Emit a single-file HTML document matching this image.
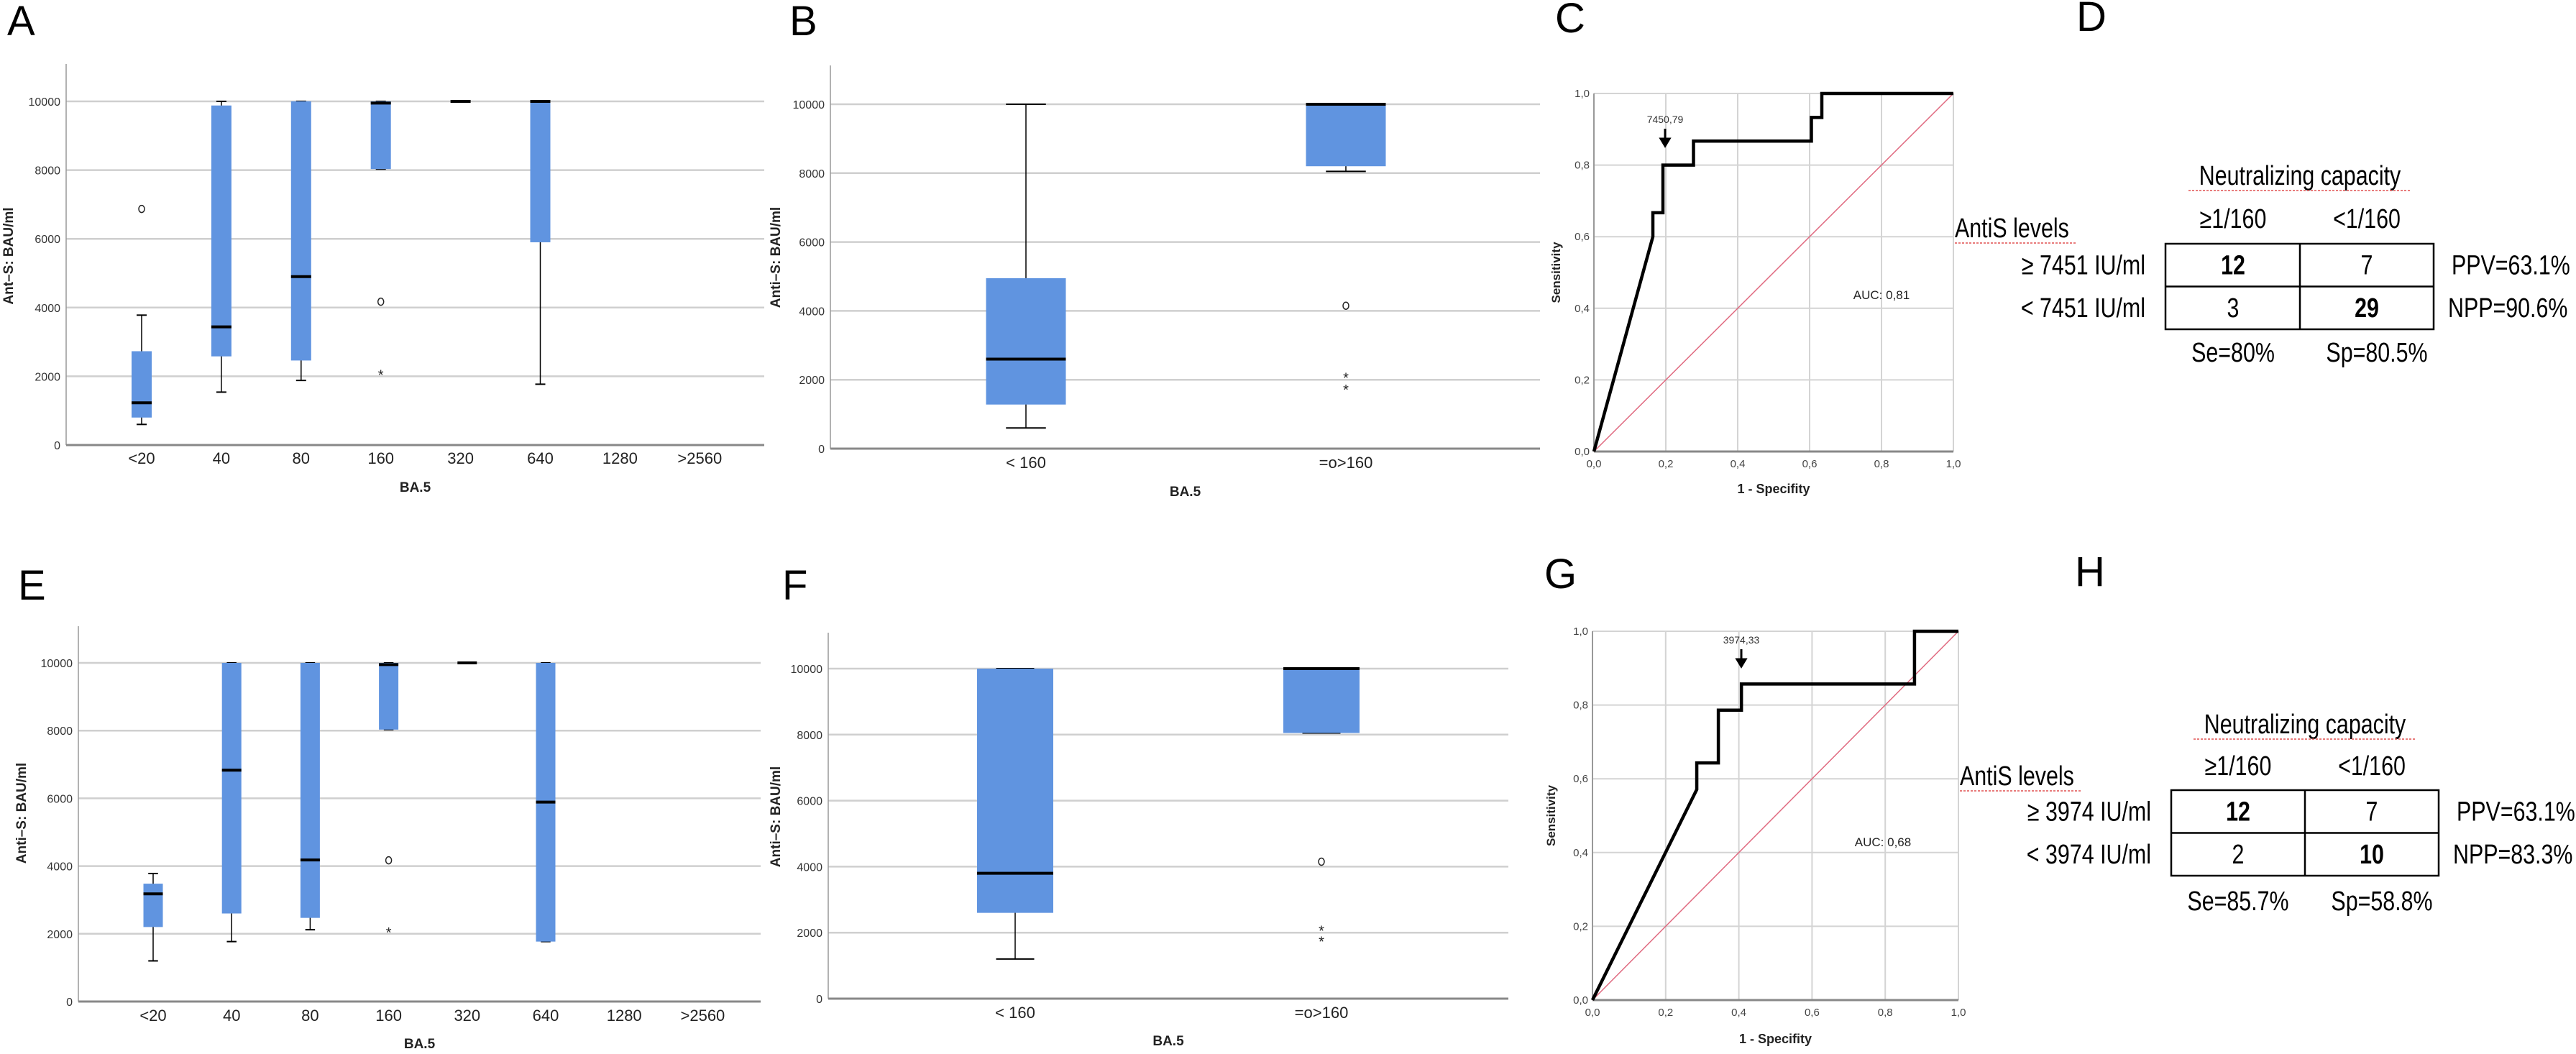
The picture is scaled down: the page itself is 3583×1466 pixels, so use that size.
<!DOCTYPE html>
<html><head><meta charset="utf-8">
<style>
html,body{margin:0;padding:0;background:#fff;}
svg{display:block;font-family:"Liberation Sans",sans-serif;}
</style></head>
<body>
<svg id="fig" width="3583" height="1466" viewBox="0 0 3583 1466" xmlns="http://www.w3.org/2000/svg">
<g id="letters" font-size="58" fill="#000">
<text x="10" y="49">A</text>
<text x="1098" y="49">B</text>
<text x="2163" y="45">C</text>
<text x="2888" y="43">D</text>
<text x="25" y="834">E</text>
<text x="1088" y="834">F</text>
<text x="2148" y="818">G</text>
<text x="2886" y="815">H</text>
</g>
</svg>
<script>
// ---------- Panel A data ----------
const catsA = ["<20","40","80","160","320","640","1280",">2560"];
const loA  = [600,1540,1880,8030,10000,1770,null,null];
const q1A  = [800,2580,2460,8030,10000,5900,null,null];
const medA = [1230,3440,4900,9950,10000,10000,null,null];
const q3A  = [2730,9880,10000,10000,10000,10000,null,null];
const hiA  = [3780,10000,10000,10000,10000,10000,null,null];
const circOutCatA = [0,3];
const circOutValA = [6870,4170];
const starOutCatA = [3];
const starOutValA = [2080];
// ---------- Panel B data ----------
const catsB = ["< 160","=o>160"];
const loB  = [600,8050];
const q1B  = [1280,8200];
const medB = [2600,10000];
const q3B  = [4950,10000];
const hiB  = [10000,10000];
const circOutCatB = [1];
const circOutValB = [4150];
const starOutCatB = [1,1];
const starOutValB = [2100,1750];
// ---------- Panel E data ----------
const catsE = ["<20","40","80","160","320","640","1280",">2560"];
const loE  = [1200,1770,2120,8030,10000,1770,null,null];
const q1E  = [2200,2600,2470,8030,10000,1770,null,null];
const medE = [3180,6830,4180,9950,10000,5890,null,null];
const q3E  = [3480,10000,10000,10000,10000,10000,null,null];
const hiE  = [3780,10000,10000,10000,10000,10000,null,null];
const circOutCatE = [3];
const circOutValE = [4170];
const starOutCatE = [3];
const starOutValE = [2080];
// ---------- Panel F data ----------
const catsF = ["< 160","=o>160"];
const loF  = [1200,8050];
const q1F  = [2600,8050];
const medF = [3800,10000];
const q3F  = [10000,10000];
const hiF  = [10000,10000];
const circOutCatF = [1];
const circOutValF = [4150];
const starOutCatF = [1,1];
const starOutValF = [2100,1780];
// ---------- ROC data ----------
const fprC = [0,0.164,0.164,0.192,0.192,0.277,0.277,0.605,0.605,0.634,0.634,1];
const tprC = [0,0.6,0.667,0.667,0.8,0.8,0.867,0.867,0.933,0.933,1,1];
const fprG = [0,0.285,0.285,0.344,0.344,0.407,0.407,0.88,0.88,1];
const tprG = [0,0.571,0.643,0.643,0.786,0.786,0.857,0.857,1,1];
const valTicks = [0,2000,4000,6000,8000,10000];
const rocTicks = [0,0.2,0.4,0.6,0.8,1.0];
const rocTickLabels = ["0,0","0,2","0,4","0,6","0,8","1,0"];

const NS="http://www.w3.org/2000/svg";
const svg=document.getElementById('fig');
function mk(tag,attrs,parent,txt){const e=document.createElementNS(NS,tag);for(const k in attrs)e.setAttribute(k,attrs[k]);if(txt!==undefined)e.textContent=txt;(parent||svg).appendChild(e);return e;}

function boxPanel(name,g,cats,lo,q1,med,q3,hi,coC,coV,soC,soV,ytitle){
  const grp=mk('g',{});
  
  
  const y=v=>g.y0+(g.y10k-g.y0)*v/10000;
  const x=i=>g.c0+i*g.step;
  valTicks.forEach(t=>{
    if(t>0){const l=mk('line',{x1:g.x0,x2:g.x1,y1:y(t),y2:y(t),stroke:'#cfcfcf','stroke-width':2.5},grp);
      }
    const tx=mk('text',{x:g.x0-8,y:y(t)+6,'text-anchor':'end','font-size':16,fill:'#333'},grp,String(t));
    
  });
  const ax=mk('line',{x1:g.x0,x2:g.x0,y1:g.top,y2:g.y0,stroke:'#999','stroke-width':1.5},grp);
  
  const bx=mk('line',{x1:g.x0,x2:g.x1,y1:g.y0,y2:g.y0,stroke:'#888','stroke-width':3},grp);
  
  cats.forEach((c,i)=>{
    const lt=mk('text',{x:x(i),y:g.lab,'text-anchor':'middle','font-size':22,fill:'#222'},grp,c);
    
    if(med[i]===null)return;
    const cx=x(i),w=g.bw,cap=w*0.5;
    const wl=mk('line',{x1:cx,x2:cx,y1:y(hi[i]),y2:y(lo[i]),stroke:'#000','stroke-width':1.5},grp);
    
    [hi[i],lo[i]].forEach(v=>{const cl=mk('line',{x1:cx-cap/2,x2:cx+cap/2,y1:y(v),y2:y(v),stroke:'#000','stroke-width':2},grp);
      });
    const r=mk('rect',{x:cx-w/2,y:y(q3[i]),width:w,height:Math.max(0,y(q1[i])-y(q3[i])),fill:'#6094e0'},grp);
    
    const m=mk('line',{x1:cx-w/2,x2:cx+w/2,y1:y(med[i]),y2:y(med[i]),stroke:'#000','stroke-width':4},grp);
    
  });
  coC.forEach((ci,k)=>{const o=mk('ellipse',{cx:x(ci),cy:y(coV[k]),rx:4,ry:5,fill:'none',stroke:'#222','stroke-width':1.5},grp);
    });
  soC.forEach((ci,k)=>{const s=mk('text',{x:x(ci),y:y(soV[k])+9,'text-anchor':'middle','font-size':20,fill:'#222'},grp,'*');
    });
  const xt=mk('text',{x:(g.x0+g.x1)/2,y:g.xt,'text-anchor':'middle','font-size':19,'font-weight':'bold',fill:'#222'},grp,'BA.5');
  
  const yt=mk('text',{x:0,y:0,transform:`translate(${g.ytx},${g.yty}) rotate(-90)`,'text-anchor':'middle','font-size':19,'font-weight':'bold',fill:'#222'},grp,ytitle);
  
}

boxPanel('boxplot-a',{x0:92,x1:1063,y0:619,y10k:141,top:89,c0:197,step:110.9,bw:28,lab:645,xt:684,ytx:18,yty:356},catsA,loA,q1A,medA,q3A,hiA,circOutCatA,circOutValA,starOutCatA,starOutValA,'Ant\u2013S: BAU/ml');
boxPanel('boxplot-b',{x0:1155,x1:2142,y0:624,y10k:145,top:91,c0:1427,step:445,bw:111,lab:651,xt:690,ytx:1085,yty:358},catsB,loB,q1B,medB,q3B,hiB,circOutCatB,circOutValB,starOutCatB,starOutValB,'Anti\u2013S: BAU/ml');
boxPanel('boxplot-e',{x0:109,x1:1058,y0:1393,y10k:922,top:871,c0:213,step:109.2,bw:27,lab:1420,xt:1458,ytx:36,yty:1131},catsE,loE,q1E,medE,q3E,hiE,circOutCatE,circOutValE,starOutCatE,starOutValE,'Anti\u2013S: BAU/ml');
boxPanel('boxplot-f',{x0:1152,x1:2098,y0:1389,y10k:930,top:880,c0:1412,step:426,bw:106,lab:1416,xt:1454,ytx:1085,yty:1136},catsF,loF,q1F,medF,q3F,hiF,circOutCatF,circOutValF,starOutCatF,starOutValF,'Anti\u2013S: BAU/ml');

function rocPanel(name,g,fpr,tpr,cut,auc){
  const grp=mk('g',{});
  
  
  const X=v=>g.X0+(g.X1-g.X0)*v, Y=v=>g.Y0+(g.Y1-g.Y0)*v;
  rocTicks.forEach((t,i)=>{
    if(t>0){
      const h=mk('line',{x1:X(0),x2:X(1),y1:Y(t),y2:Y(t),stroke:'#d4d4d4','stroke-width':2},grp);
      
      const v=mk('line',{x1:X(t),x2:X(t),y1:Y(0),y2:Y(1),stroke:'#d4d4d4','stroke-width':2},grp);
      
    }
    const yl=mk('text',{x:X(0)-6,y:Y(t)+5,'text-anchor':'end','font-size':15,fill:'#444'},grp,rocTickLabels[i]);
    
    const xl=mk('text',{x:X(t),y:g.lab,'text-anchor':'middle','font-size':15,fill:'#444'},grp,rocTickLabels[i]);
    
  });
  const ay=mk('line',{x1:X(0),x2:X(0),y1:Y(0),y2:Y(1),stroke:'#999','stroke-width':2},grp);
  
  const axx=mk('line',{x1:X(0),x2:X(1),y1:Y(0),y2:Y(0),stroke:'#888','stroke-width':3},grp);
  
  const d=mk('line',{x1:X(0),y1:Y(0),x2:X(1),y2:Y(1),stroke:'#e06a80','stroke-width':1.5},grp);
  
  const pts=fpr.map((f,i)=>X(f)+','+Y(tpr[i])).join(' ');
  const p=mk('polyline',{points:pts,fill:'none',stroke:'#000','stroke-width':4.5,'stroke-linejoin':'miter'},grp);
  
  const ct=mk('text',{x:g.cutX,y:g.cutY,'text-anchor':'middle','font-size':14,fill:'#333'},grp,cut);
  
  const ar=mk('path',{d:`M${g.cutX},${g.cutY+8} V${g.cutY+28} M${g.cutX-6},${g.cutY+22} L${g.cutX},${g.cutY+32} L${g.cutX+6},${g.cutY+22} Z`,stroke:'#000','stroke-width':3,fill:'#000'},grp);
  
  const at=mk('text',{x:g.aucX,y:g.aucY,'text-anchor':'middle','font-size':17,fill:'#222'},grp,auc);
  
  const xt=mk('text',{x:(g.X0+g.X1)/2,y:g.xt,'text-anchor':'middle','font-size':18,'font-weight':'bold',fill:'#222'},grp,'1 - Specifity');
  
  const yt=mk('text',{x:0,y:0,transform:`translate(${g.ytx},${(g.Y0+g.Y1)/2}) rotate(-90)`,'text-anchor':'middle','font-size':17,'font-weight':'bold',fill:'#222'},grp,'Sensitivity');
  
}
rocPanel('roc-c',{X0:2217,X1:2717,Y0:628,Y1:130,lab:650,xt:686,ytx:2170,cutX:2316,cutY:171,aucX:2617,aucY:416},fprC,tprC,'7450,79','AUC: 0,81');
rocPanel('roc-g',{X0:2215,X1:2724,Y0:1391,Y1:878,lab:1413,xt:1451,ytx:2163,cutX:2422,cutY:895,aucX:2619,aucY:1177},fprG,tprG,'3974,33','AUC: 0,68');

const SX=0.8;
function tablePanel(name,g,rows,cells,bold,ppv,npp,se,sp){
  const grp=mk('g',{'font-size':38,fill:'#000'});
  
  
  const t=(x,y,s,anchor,extra,nm)=>{const e=mk('text',Object.assign({x:x/SX,y:y,'text-anchor':anchor,transform:`scale(${SX},1)`},extra||{}),grp,s);
    return e;};
  t(g.mid,g.ncY,'Neutralizing capacity','middle',{},'column-group-title');
  mk('line',{x1:g.mid-155,x2:g.mid+155,y1:g.ncY+8,y2:g.ncY+8,stroke:'#e05050','stroke-width':1.5,'stroke-dasharray':'3 2'},grp);
  t(g.c1,g.hY,'\u22651/160','middle',{},'column-header');
  t(g.c2,g.hY,'<1/160','middle',{},'column-header');
  t(g.alX,g.alY,'AntiS levels','start',{},'row-group-title');
  mk('line',{x1:g.alX,x2:g.alX+170,y1:g.alY+8,y2:g.alY+8,stroke:'#e05050','stroke-width':1.5,'stroke-dasharray':'3 2'},grp);
  const r=mk('rect',{x:g.L,y:g.T,width:g.R-g.L,height:g.B-g.T,fill:'none',stroke:'#000','stroke-width':2.5},grp);
  
  mk('line',{x1:g.mid,x2:g.mid,y1:g.T,y2:g.B,stroke:'#000','stroke-width':2.5},grp);
  mk('line',{x1:g.L,x2:g.R,y1:(g.T+g.B)/2,y2:(g.T+g.B)/2,stroke:'#000','stroke-width':2.5},grp);
  const rh=(g.B-g.T)/2;
  rows.forEach((s,i)=>t(g.L-28,g.T+rh*i+rh/2+13,s,'end',{},'row-label'));
  cells.forEach((s,i)=>{const ri=Math.floor(i/2),ci=i%2;
    t(ci?g.c2:g.c1,g.T+rh*ri+rh/2+13,s,'middle',bold[i]?{'font-weight':'bold'}:{},'table-cell');});
  t(g.R+25,g.T+rh/2+13,ppv,'start',{},'ppv-label');
  t(g.R+20,g.T+rh*1.5+13,npp,'start',{},'npp-label');
  t(g.c1,g.seY,se,'middle',{},'sensitivity-label');
  t(g.c2+14,g.seY,sp,'middle',{},'specificity-label');
}
tablePanel('table-d',{L:3012,R:3385,mid:3199,T:339,B:458,c1:3106,c2:3292,ncY:257,hY:317,alX:2719,alY:330,seY:503},
  ['\u2265 7451 IU/ml','< 7451 IU/ml'],['12','7','3','29'],[1,0,0,1],'PPV=63.1%','NPP=90.6%','Se=80%','Sp=80.5%');
tablePanel('table-h',{L:3020,R:3392,mid:3206,T:1099,B:1218,c1:3113,c2:3299,ncY:1020,hY:1078,alX:2726,alY:1092,seY:1266},
  ['\u2265 3974 IU/ml','< 3974 IU/ml'],['12','7','2','10'],[1,0,0,1],'PPV=63.1%','NPP=83.3%','Se=85.7%','Sp=58.8%');
</script>
</body></html>
